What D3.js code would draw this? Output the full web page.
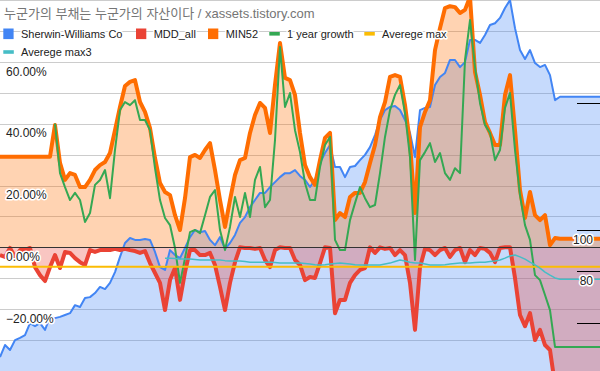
<!DOCTYPE html>
<html><head><meta charset="utf-8">
<script src="https://cdn.jsdelivr.net/npm/d3@7"></script>
<style>
html,body{margin:0;padding:0;background:#fff;}
svg{display:block;}
text{font-family:Arial,"Liberation Sans","Noto Sans CJK KR",sans-serif;}
</style></head><body>
<svg id="chart" width="600" height="371"></svg>
<script>
// ---------- DATA ----------
const titleText = "누군가의 부채는 누군가의 자산이다 / xassets.tistory.com";
const seriesNames = ["Sherwin-Williams Co", "MDD_all", "MIN52", "1 year growth", "Averege max", "Averege max3"];
const seriesColors = ["#4285F4", "#EA4335", "#FF6D01", "#34A853", "#FBBC04", "#46BDC6"];
const periods = Array.from({length: 121}, (_, i) => i);   // weekly periods (category index)

const sherwinWilliams = [
 -35.5,-31.6,-33.2,-30.0,-29.3,-28.4,-24.5,-25.5,-24.5,-26.7,
 -22.5,-22.9,-22.5,-21.9,-21.3,-18.7,-19.3,-16.4,-16.1,-14.8,
 -12.8,-13.5,-11.5,-8.0,-3.1,1.4,3.0,2.4,2.4,2.7,
 2.4,-1.5,-6.4,-7.3,-0.9,-2.5,-3.5,-0.2,3.3,5.6,
 4.9,5.3,2.4,0.7,3.3,-0.5,1.4,4.0,7.9,9.8,
 13.0,15.3,17.6,17.6,19.5,21.1,22.7,24.0,24.0,25.0,
 23.1,21.8,19.5,21.8,27.3,30.5,33.1,26.0,26.0,22.7,
 26.0,26.3,28.2,29.9,32.4,36.3,41.2,44.4,45.4,45.7,
 44.4,41.2,37.0,29.2,44.4,45.1,45.4,52.5,55.1,56.4,
 60.6,60.6,58.3,59.9,67.1,67.1,66.1,68.7,71.9,72.5,
 74.2,77.4,80.0,70.9,63.8,60.9,63.8,59.6,58.3,59.0,
 55.7,47.6,48.7,48.7,48.7,48.7,48.7,48.7,48.7,48.7,48.7];

const mddAll = [
 -2.5,-3.1,-0.2,-3.1,-0.9,-0.9,-0.2,-6.4,-9.0,-10.9,
 -6.4,-2.5,-6.7,-1.5,-1.8,-3.5,-4.8,-5.7,-0.9,-1.5,
 -0.9,-0.9,-0.9,-0.5,-0.9,-0.5,-0.9,-1.2,-1.8,-1.2,
 -5.1,-8.3,-11.5,-20.3,-10.6,-6.7,-17.0,-8.0,-0.9,-0.9,
 -2.5,-2.5,-1.8,-5.7,-12.8,-20.3,-11.5,-4.8,0.0,-0.2,
 -0.2,-0.5,-0.2,-4.1,-6.4,-0.9,0.0,-0.2,-0.2,-4.1,
 -5.7,-10.6,-9.6,-9.9,-5.1,0.0,-0.2,-21.3,-17.0,-17.0,
 -11.5,-9.0,-7.3,-6.7,0.0,-1.8,0.0,-0.5,-0.2,-2.5,
 -0.9,-2.5,-11.5,-26.7,-6.4,-0.5,-0.9,-2.5,-0.9,-0.2,
 -3.1,-0.9,-0.2,-4.8,-0.9,-2.5,-0.2,-0.5,-1.8,-4.8,
 -0.2,0.0,0.0,-9.9,-21.9,-25.5,-21.3,-30.0,-26.7,-31.6,
 -33.2,-44.5,-48,-48,-48,-48,-48,-48,-48,-48,-48];

const min52 = [
 29.3,29.3,29.3,29.3,29.3,29.3,29.3,29.3,29.3,29.3,
 29.3,39.6,27.3,21.8,24.0,23.4,19.5,19.5,21.8,25.0,
 26.6,27.6,30.5,37.9,45.4,52.2,53.5,54.1,47.0,43.8,
 38.6,28.9,20.8,17.9,16.9,10.4,5.6,15.9,29.2,29.9,
 28.9,31.5,33.7,25.0,15.3,6.6,15.3,23.4,28.2,28.9,
 37.0,42.8,46.7,45.1,37.0,52.5,66.1,54.8,54.1,49.3,
 37.0,26.6,22.7,20.2,28.2,35.4,37.0,8.8,11.1,9.8,
 16.3,17.6,17.6,21.1,27.3,33.1,42.1,47.0,55.1,55.7,
 55.1,46.0,33.7,11.1,38.9,43.8,47.6,63.8,70.9,77.4,
 78.0,77.7,75.8,76.8,81.0,56.7,49.3,40.5,37.0,33.1,
 33.1,49.3,55.7,37.9,18.5,9.5,17.9,10.4,8.8,10.4,
 0.7,3.0,2.8,2.8,2.8,2.8,2.8,2.8,2.8,2.8,2.8];

const oneYearGrowth = [
 null,null,null,null,null,null,null,null,null,null,
 null,40.0,24.0,19.5,15.3,17.6,15.3,8.2,11.1,20.2,
 21.8,25.0,15.9,31.5,44.4,47.0,46.0,47.6,41.2,41.2,
 37.9,25.6,15.3,9.5,7.2,-0.2,-11.5,-3.5,4.9,5.6,
 4.6,10.4,16.3,18.5,5.6,-0.9,6.6,16.3,9.8,17.6,
 9.8,21.8,26.0,13.0,15.3,34.7,64.8,45.4,49.9,37.9,
 30.8,20.8,15.3,15.3,26.0,33.1,35.7,2.4,-0.9,-0.9,
 8.8,14.3,19.5,15.9,13.0,13.7,24.0,35.7,44.4,49.3,
 52.5,43.4,29.2,-4.1,28.2,30.8,33.7,27.6,30.5,24.0,
 21.8,25.6,24.0,60.6,73.5,58.3,46.7,39.6,37.0,28.2,
 31.5,45.1,49.9,31.5,16.9,7.2,2.4,-9.0,-10.6,-15.4,
 -20.3,-32.2,-32.2,-32.2,-32.2,-32.2,-32.2,-32.2,-32.2,-32.2,-32.2];

const averegeMax = [
 -6.3,-6.3,-6.3,-6.3,-6.3,-6.3,-6.3,-6.3,-6.3,-6.3,
 -6.3,-6.3,-6.3,-6.3,-6.3,-6.3,-6.3,-6.3,-6.3,-6.3,
 -6.3,-6.3,-6.3,-6.3,-6.3,-6.3,-6.3,-6.3,-6.3,-6.3,
 -6.3,-6.3,-6.3,-6.3,-6.3,-6.3,-6.3,-6.3,-6.3,-6.3,
 -6.3,-6.3,-6.3,-6.3,-6.3,-6.3,-6.3,-6.3,-6.3,-6.3,
 -6.3,-6.3,-6.3,-6.3,-6.3,-6.3,-6.3,-6.3,-6.3,-6.3,
 -6.3,-6.3,-6.3,-6.3,-6.3,-6.3,-6.3,-6.3,-6.3,-6.3,
 -6.3,-6.3,-6.3,-6.3,-6.3,-6.3,-6.3,-6.3,-6.3,-6.3,
 -6.3,-6.3,-6.3,-6.3,-6.3,-6.3,-6.3,-6.3,-6.3,-6.3,
 -6.3,-6.3,-6.3,-6.3,-6.3,-6.3,-6.3,-6.3,-6.3,-6.3,
 -6.3,-6.3,-6.3,-6.3,-6.3,-6.3,-6.3,-6.3,-6.3,-6.3,
 -6.3,-6.3,-6.3,-6.3,-6.3,-6.3,-6.3,-6.3,-6.3,-6.3,-6.3];

const averegeMax3 = [
 null,null,null,null,null,null,null,null,null,null,
 null,null,null,null,null,null,null,null,null,null,
 null,null,null,null,null,null,null,null,null,null,
 null,null,null,-3.5,-3.5,-3.6,-3.8,-3.8,-3.8,-3.9,
 -4.1,-4.1,-4.1,-4.1,-4.1,-4.3,-4.4,-4.4,-4.4,-4.6,
 -4.8,-4.8,-4.8,-4.8,-4.8,-4.9,-5.1,-5.1,-5.1,-5.1,
 -5.1,-5.2,-5.4,-5.6,-5.7,-5.6,-5.4,-5.2,-5.1,-5.2,
 -5.4,-5.6,-5.7,-5.7,-5.7,-5.7,-5.7,-5.4,-5.1,-4.6,
 -4.1,-4.4,-4.8,-5.1,-5.1,-5.4,-5.7,-5.7,-5.7,-5.6,
 -5.4,-5.2,-5.1,-5.1,-5.1,-4.9,-4.8,-4.8,-4.6,-4.4,
 -4.1,-3.5,-2.8,-2.5,-3.1,-3.8,-4.8,-5.7,-6.7,-8.0,
 -9.0,-9.9,-10.3,-10.3,-10.3,-10.3,-10.3,-10.3,-10.3,-10.3,-10.3];

const gridTicks = [-40,-30,-20,-10,0,10,20,30,40,50,60,70,80];
const labelTicks = [60,40,20,0,-20];
const endMarkerValues = [46.6, 5.6, -7.7, -24.5];
const endLabels = ["100", "80"];
const endLabelValues = [2.5, -10.9];

// ---------- CHART ----------
const W = 600, H = 371;
const svg = d3.select("#chart");
const x = d3.scaleLinear().domain([0, periods.length - 1]).range([0, W]);
const y = d3.scaleLinear().domain([-40, 80]).range([H, 0]);

svg.append("defs").append("clipPath").attr("id","plot")
  .append("rect").attr("x",0).attr("y",0).attr("width",W).attr("height",H);

// gridlines
const grid = svg.append("g").attr("class","grid")
  .call(d3.axisLeft(y).tickValues(gridTicks).tickSize(-W).tickFormat(""));
grid.select(".domain").remove();
grid.selectAll("line").attr("stroke","#cccccc").attr("stroke-width",1)
  .attr("shape-rendering","crispEdges");

const plot = svg.append("g").attr("clip-path","url(#plot)");
const pts = arr => periods.map((p, i) => ({p, v: arr[i]}));
const defined = d => d.v !== null && d.v !== undefined;

const areaBottom = d3.area().defined(defined).x(d => x(d.p)).y0(H).y1(d => y(d.v));
const areaZero = d3.area().defined(defined).x(d => x(d.p)).y0(y(0)).y1(d => y(d.v));
const line = d3.line().defined(defined).x(d => x(d.p)).y(d => y(d.v));

// areas
plot.append("path").datum(pts(sherwinWilliams)).attr("d", areaBottom)
  .attr("fill", seriesColors[0]).attr("fill-opacity", 0.3);
plot.append("path").datum(pts(mddAll)).attr("d", areaZero)
  .attr("fill", seriesColors[1]).attr("fill-opacity", 0.3);
plot.append("path").datum(pts(min52)).attr("d", areaZero)
  .attr("fill", seriesColors[2]).attr("fill-opacity", 0.3);

// baseline
svg.append("line").attr("x1",0).attr("x2",W).attr("y1",Math.round(y(0))+0.5).attr("y2",Math.round(y(0))+0.5)
  .attr("stroke","#333").attr("stroke-width",1);

// lines
const lineSpecs = [
  {data: sherwinWilliams, color: seriesColors[0], w: 2},
  {data: mddAll, color: seriesColors[1], w: 4},
  {data: min52, color: seriesColors[2], w: 4},
  {data: oneYearGrowth, color: seriesColors[3], w: 2},
  {data: averegeMax, color: seriesColors[4], w: 2},
  {data: averegeMax3, color: seriesColors[5], w: 1.5}
];
lineSpecs.forEach(s => {
  plot.append("path").datum(pts(s.data)).attr("d", line)
    .attr("fill","none").attr("stroke", s.color).attr("stroke-width", s.w)
    .attr("stroke-linejoin","round").attr("stroke-linecap","butt");
});

// end markers & labels
svg.selectAll(".endmark").data(endMarkerValues).enter().append("line")
  .attr("x1", 577).attr("x2", W)
  .attr("y1", d => Math.round(y(d)) + 0.5).attr("y2", d => Math.round(y(d)) + 0.5)
  .attr("stroke", "#000").attr("stroke-width", 1);
svg.selectAll(".endlabel").data(endLabels).enter().append("text")
  .attr("x", 593).attr("y", (d, i) => y(endLabelValues[i]))
  .attr("dy", "0.36em").attr("text-anchor","end")
  .attr("font-size", 12).attr("fill","#222")
  .attr("stroke","#fff").attr("stroke-width",3).attr("stroke-linejoin","round")
  .attr("paint-order","stroke").text(d => d);

// left axis labels (inside)
const yAxis = svg.append("g").call(d3.axisRight(y).tickValues(labelTicks).tickSize(0).tickPadding(6)
  .tickFormat(d => d3.format(".2f")(d) + "%"));
yAxis.select(".domain").remove();
yAxis.selectAll("text").attr("dy", null).attr("y", 13.3)
  .attr("font-size", 12).attr("font-family", "Arial, 'Liberation Sans', sans-serif")
  .attr("fill", "#222").attr("stroke","#fff").attr("stroke-width",3)
  .attr("stroke-linejoin","round").attr("paint-order","stroke");

// title
svg.append("text").attr("x", 4).attr("y", 17.5).attr("font-size", 13)
  .attr("fill", "#757575").text(titleText);

// legend
const legendTypes = ["area","area","area","line","line","line"];
const legendPos = [[3.3,0],[136,0],[208,0],[269.3,0],[364.3,0],[3.3,1]];
const rowY = [33.8, 52];
const lg = svg.append("g");
seriesNames.forEach((name, i) => {
  const [lx, row] = legendPos[i];
  const cy = rowY[row];
  if (legendTypes[i] === "area") {
    lg.append("rect").attr("x", lx).attr("y", cy - 5.3).attr("width", 10.3).attr("height", 10.6)
      .attr("fill", seriesColors[i]);
  } else {
    lg.append("rect").attr("x", lx).attr("y", cy - 1.8).attr("width", 10.5).attr("height", 3.6)
      .attr("fill", seriesColors[i]);
  }
  lg.append("text").attr("x", lx + 17.7).attr("y", cy + 3.9).attr("font-size", 11)
    .attr("fill", "#222").attr("stroke","#fff").attr("stroke-width",3)
    .attr("stroke-linejoin","round").attr("paint-order","stroke").text(name);
});
</script>
</body></html>
